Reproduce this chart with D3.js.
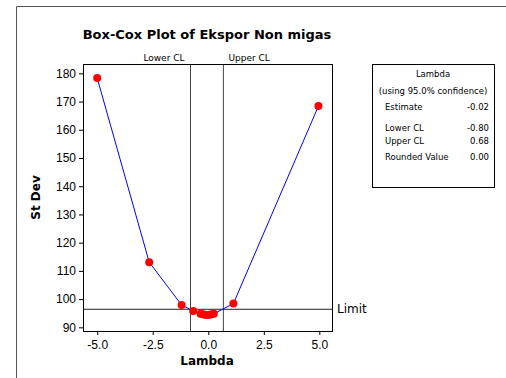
<!DOCTYPE html>
<html>
<head>
<meta charset="utf-8">
<script src="https://cdn.jsdelivr.net/npm/d3@7"></script>
<style>
  body { margin: 0; background: #fff; }
  svg { font-family: "DejaVu Sans", Verdana, sans-serif; }
</style>
</head>
<body>
<svg width="506" height="378"></svg>
<script>
// values
var lambdas = [-5.0, -2.66, -1.2, -0.68, -0.35, -0.25, -0.15, -0.05, 0.05, 0.15, 0.25, 1.13, 4.96];
var stdevs  = [178.3, 113.1, 97.9, 95.8, 94.8, 94.6, 94.5, 94.4, 94.5, 94.6, 94.8, 98.4, 168.4];
var xTicks = [-5.0, -2.5, 0.0, 2.5, 5.0];
var yTicks = [90, 100, 110, 120, 130, 140, 150, 160, 170, 180];
var lowerCL = -0.80, upperCL = 0.68, limit = 96.4;
var boxLabels = ['Estimate', 'Lower CL', 'Upper CL', 'Rounded Value'];
var boxValues = ['-0.02', '-0.80', '0.68', '0.00'];

var svg = d3.select('svg');
// plot area edges (don't call it "top", window.top is taken)
var pLeft = 83, pRight = 332, pTop = 64, pBottom = 331;

var x = d3.scaleLinear().domain([-5.64, 5.57]).range([pLeft, pRight]);
var y = d3.scaleLinear().domain([88.7, 183.3]).range([pBottom, pTop]);

// outer frame (only top and left edges show)
svg.append('path')
  .attr('d', 'M16.5,378 V6.5 H506')
  .attr('fill', 'none').attr('stroke', '#555').attr('stroke-width', 1);

svg.append('text')
  .attr('x', 207).attr('y', 39)
  .attr('text-anchor', 'middle')
  .style('font-size', '13px').style('font-weight', 'bold')
  .text('Box-Cox Plot of Ekspor Non migas');

// axes
var xAxis = d3.axisBottom(x).tickValues(xTicks).tickSize(4).tickSizeOuter(0);
var yAxis = d3.axisLeft(y).tickValues(yTicks).tickSize(4).tickSizeOuter(0);

var gx = svg.append('g').attr('transform', 'translate(0,' + pBottom + ')').call(xAxis);
var gy = svg.append('g').attr('transform', 'translate(' + pLeft + ',0)').call(yAxis);
[gx, gy].forEach(function(g){
  g.select('.domain').remove();
  g.selectAll('text').style('font-size', '12px').attr('fill', '#000');
  g.selectAll('line').attr('stroke', '#000');
});
gx.selectAll('text').attr('dy', '0.95em').text(function(d){ return d.toFixed(1); });

svg.append('text')
  .attr('x', 207).attr('y', 365)
  .attr('text-anchor', 'middle')
  .style('font-size', '12px').style('font-weight', 'bold')
  .text('Lambda');

svg.append('text')
  .attr('transform', 'translate(40,' + ((pTop + pBottom) / 2) + ') rotate(-90)')
  .attr('text-anchor', 'middle')
  .style('font-size', '12px').style('font-weight', 'bold')
  .text('St Dev');

// confidence limit lines
svg.append('line')
  .attr('x1', x(lowerCL)).attr('x2', x(lowerCL)).attr('y1', pTop).attr('y2', pBottom)
  .attr('stroke', '#444').attr('stroke-width', 1);
svg.append('line')
  .attr('x1', x(upperCL)).attr('x2', x(upperCL)).attr('y1', pTop).attr('y2', pBottom)
  .attr('stroke', '#444').attr('stroke-width', 1);
svg.append('text')
  .attr('x', x(lowerCL) - 6).attr('y', 61)
  .attr('text-anchor', 'end')
  .style('font-size', '9px')
  .text('Lower CL');
svg.append('text')
  .attr('x', x(upperCL) + 5).attr('y', 61)
  .style('font-size', '9px')
  .text('Upper CL');

// limit line
svg.append('line')
  .attr('x1', pLeft).attr('x2', pRight).attr('y1', y(limit)).attr('y2', y(limit))
  .attr('stroke', '#222').attr('stroke-width', 1);
svg.append('text')
  .attr('x', 337).attr('y', y(limit) + 4)
  .style('font-size', '12px')
  .text('Limit');

// curve and points
var pts = lambdas.map(function(l, i){ return [l, stdevs[i]]; });
svg.append('path')
  .datum(pts)
  .attr('d', d3.line().x(function(d){ return x(d[0]); }).y(function(d){ return y(d[1]); }))
  .attr('fill', 'none').attr('stroke', '#0000ff').attr('stroke-width', 1);

svg.selectAll('circle.pt')
  .data(pts)
  .enter()
  .append('circle')
  .attr('class', 'pt')
  .attr('cx', function(d){ return x(d[0]); })
  .attr('cy', function(d){ return y(d[1]); })
  .attr('r', 4)
  .attr('fill', '#ff0000');

// plot frame
svg.append('rect')
  .attr('x', pLeft + 0.5).attr('y', pTop + 0.5)
  .attr('width', pRight - pLeft).attr('height', pBottom - pTop)
  .attr('fill', 'none').attr('stroke', '#000').attr('stroke-width', 1);

// info box
svg.append('rect')
  .attr('x', 372.5).attr('y', 64.5).attr('width', 122).attr('height', 123)
  .attr('fill', 'none').attr('stroke', '#000').attr('stroke-width', 1);
svg.append('text')
  .attr('x', 433).attr('y', 77)
  .attr('text-anchor', 'middle').style('font-size', '8.5px')
  .text('Lambda');
svg.append('text')
  .attr('x', 433).attr('y', 94)
  .attr('text-anchor', 'middle').style('font-size', '8.5px')
  .text('(using 95.0%  confidence)');

var rowY = [110, 131, 144, 160];
svg.selectAll('text.lab')
  .data(boxLabels)
  .enter()
  .append('text')
  .attr('class', 'lab')
  .attr('x', 385).attr('y', function(d, i){ return rowY[i]; })
  .style('font-size', '8.5px')
  .text(function(d){ return d; });
svg.selectAll('text.val')
  .data(boxValues)
  .enter()
  .append('text')
  .attr('class', 'val')
  .attr('x', 489).attr('y', function(d, i){ return rowY[i]; })
  .attr('text-anchor', 'end')
  .style('font-size', '8.5px')
  .text(function(d){ return d; });
</script>
</body>
</html>
